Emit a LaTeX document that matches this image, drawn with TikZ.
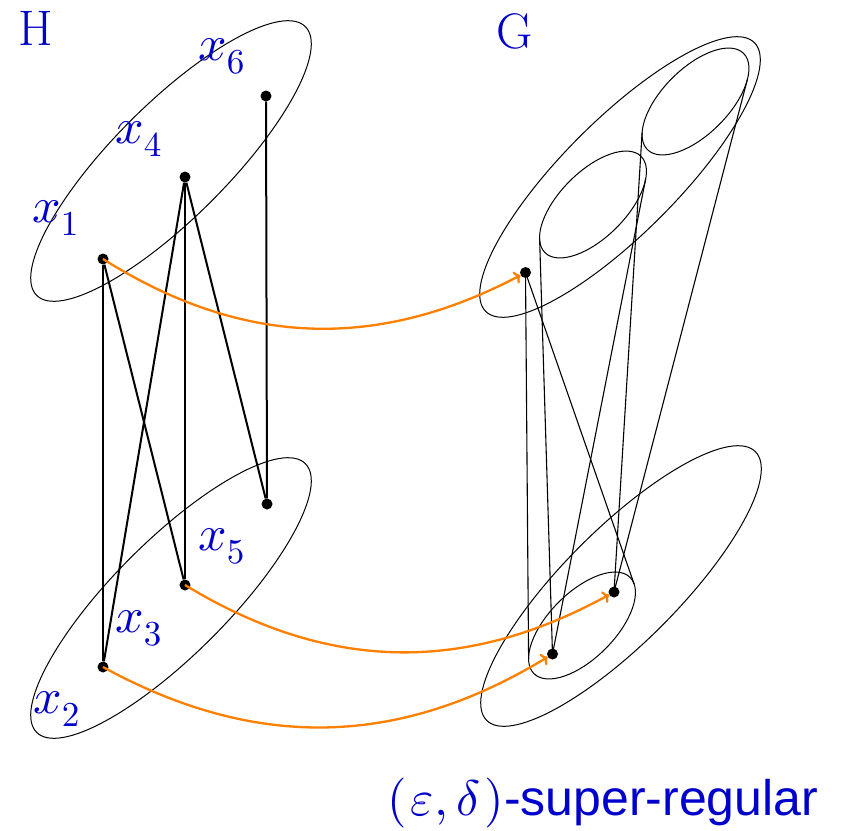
\documentclass[tikz,border=0pt]{standalone}
\usepackage[no-math]{fontspec}
\newfontfamily\arialfont{Liberation Sans}
\usetikzlibrary{arrows.meta}
\DeclareFontShape{OML}{cmm}{m}{it}{<->cmmi10}{}
\DeclareFontShape{OT1}{cmr}{m}{n}{<->cmr10}{}
\DeclareMathSizes{50}{50}{35}{25}
\definecolor{lblue}{RGB}{0,0,204}
\definecolor{embor}{RGB}{255,128,0}
\begin{document}
\begin{tikzpicture}[x=1pt,y=-1pt,
  lab/.style={text=lblue, font=\fontsize{50}{60}\selectfont, inner sep=0pt, anchor=base west},
  vdot/.style={circle, fill=black, inner sep=0pt, minimum size=11pt},
  part/.style={line width=1pt},
  hedge/.style={line width=2pt},
  gedge/.style={line width=1.1pt},
  emb/.style={draw=embor, line width=2.3pt, -{To[length=6pt,width=13pt]}}]
\useasboundingbox (0,0) rectangle (845,830);

% ellipse centres
\coordinate (cHa) at (171,161);
\coordinate (cHb) at (171,598);
\coordinate (cGa) at (620,177);
\coordinate (cGb) at (621,586);
\coordinate (cN2) at (593,204.5);
\coordinate (cN3) at (695.5,101.5);
\coordinate (cN1) at (582,625.5);

% parts
\draw[part, rotate around={45:(cHa)}] (cHa) ellipse [x radius=190, y radius=57];
\draw[part, rotate around={45:(cHb)}] (cHb) ellipse [x radius=190, y radius=57];
\draw[part, rotate around={45:(cGa)}] (cGa) ellipse [x radius=190, y radius=57];
\draw[part, rotate around={45:(cGb)}] (cGb) ellipse [x radius=190, y radius=57];
\draw[part, rotate around={45:(cN2)}] (cN2) ellipse [x radius=68, y radius=33];
\draw[part, rotate around={45:(cN3)}] (cN3) ellipse [x radius=68, y radius=33];
\draw[part, rotate around={45:(cN1)}] (cN1) ellipse [x radius=68, y radius=33];

% H vertices
\node[vdot] (x1) at (103,259) {};
\node[vdot] (x4) at (185,177) {};
\node[vdot] (x6) at (266,96) {};
\node[vdot] (x2) at (103,667) {};
\node[vdot] (x3) at (185,585) {};
\node[vdot] (x5) at (267,504) {};

% G vertices
\node[vdot] (v1) at (525.5,272.5) {};
\node[vdot] (v3) at (614,592) {};
\node[vdot] (v2) at (552.5,654) {};

% tangent points
\coordinate (t1a) at (634.1,584.0);
\coordinate (t1b) at (528.6,658.8);
\coordinate (t2a) at (539.6,238.6);
\coordinate (t2b) at (645.6,179.1);
\coordinate (t3a) at (642.1,132.4);
\coordinate (t3b) at (747.4,79.3);

% H edges
\draw[hedge] (x1) -- (x2);
\draw[hedge] (x1) -- (x3);
\draw[hedge] (x4) -- (x2);
\draw[hedge] (x4) -- (x3);
\draw[hedge] (x4) -- (x5);
\draw[hedge] (x6) -- (x5);

% G cones
\draw[gedge] (v1.center) -- (t1a);
\draw[gedge] (v1.center) -- (t1b);
\draw[gedge] (v2.center) -- (t2a);
\draw[gedge] (v2.center) -- (t2b);
\draw[gedge] (v3.center) -- (t3a);
\draw[gedge] (v3.center) -- (t3b);

% embedding arrows
\draw[emb] (x1.center) to[bend right=30] (v1);
\draw[emb] (x3.center) to[bend right=30] (v3);
\draw[emb] (x2.center) to[bend right=30] (v2);

% labels
\node[lab] (lH) at (18,45) {H};
\node[lab] (lG) at (496,48) {G};
\node[lab] (l1) at (32,222) {$x_1$};
\node[lab] (l4) at (115,143) {$x_4$};
\node[lab] (l6) at (198,60) {$x_6$};
\node[lab] (l2) at (33,713) {$x_2$};
\node[lab] (l3) at (115,632) {$x_3$};
\node[lab] (l5) at (198,550) {$x_5$};
\node[lab] (lsr) at (387,815) {$(\,\varepsilon,\,\delta\,)$\arialfont-super-regular};
\end{tikzpicture}
\end{document}
